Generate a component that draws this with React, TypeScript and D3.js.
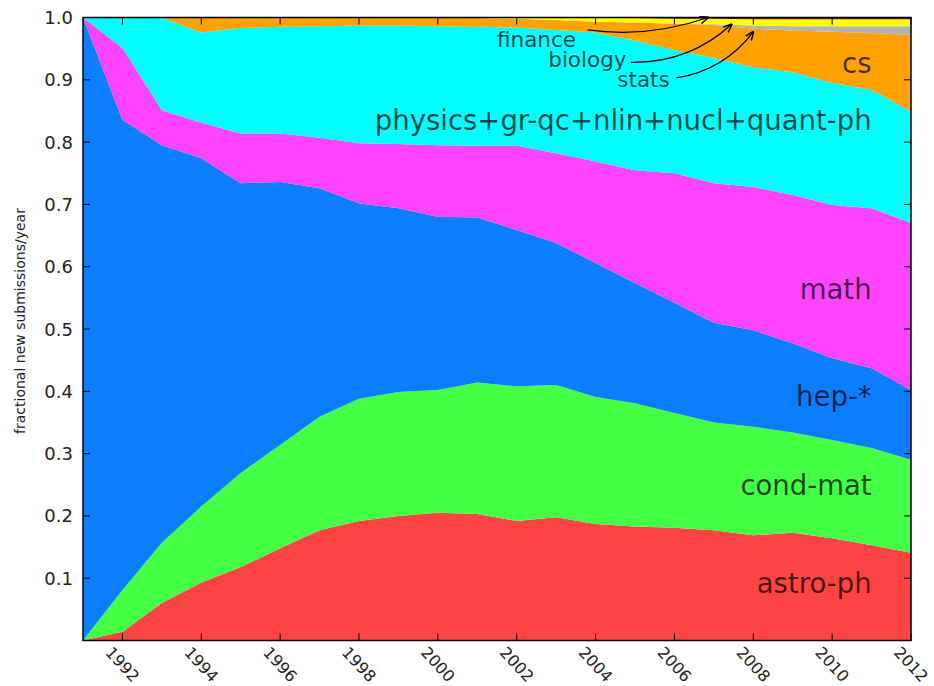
import React from "react";
import * as d3 from "d3";

// years on the x axis
const years = [
  1991, 1992, 1993, 1994, 1995, 1996, 1997, 1998, 1999, 2000, 2001,
  2002, 2003, 2004, 2005, 2006, 2007, 2008, 2009, 2010, 2011, 2012,
];

// fraction of new submissions per year, one array per archive (bottom to top)
const astroPh = [
  0, 0.014, 0.06, 0.093, 0.118, 0.148, 0.177, 0.192, 0.2, 0.205, 0.203,
  0.192, 0.198, 0.187, 0.183, 0.181, 0.177, 0.169, 0.173, 0.164, 0.153, 0.141,
];
const condMat = [
  0, 0.067, 0.097, 0.122, 0.151, 0.166, 0.182, 0.196, 0.199, 0.197, 0.211,
  0.216, 0.212, 0.204, 0.198, 0.184, 0.173, 0.174, 0.161, 0.158, 0.156, 0.149,
];
const hep = [
  1.0, 0.755, 0.638, 0.559, 0.465, 0.422, 0.367, 0.314, 0.295, 0.278, 0.265,
  0.251, 0.228, 0.215, 0.193, 0.177, 0.16, 0.155, 0.143, 0.131, 0.128, 0.112,
];
const math = [
  0, 0.115, 0.056, 0.057, 0.08, 0.078, 0.081, 0.096, 0.103, 0.115, 0.115,
  0.135, 0.144, 0.163, 0.181, 0.208, 0.224, 0.23, 0.238, 0.246, 0.257, 0.268,
];
const physics = [
  0, 0.049, 0.149, 0.145, 0.169, 0.171, 0.179, 0.189, 0.19, 0.191, 0.191,
  0.19, 0.198, 0.207, 0.208, 0.198, 0.201, 0.192, 0.197, 0.196, 0.19, 0.179,
];
const cs = [
  0, 0, 0, 0.024, 0.017, 0.015, 0.014, 0.013, 0.013, 0.014, 0.014,
  0.014, 0.016, 0.017, 0.029, 0.042, 0.053, 0.062, 0.067, 0.082, 0.091, 0.123,
];
const stats = [
  0, 0, 0, 0, 0, 0, 0, 0, 0, 0, 0,
  0, 0, 0, 0, 0, 0.001, 0.005, 0.007, 0.009, 0.011, 0.014,
];
const biology = [
  0, 0, 0, 0, 0, 0, 0, 0, 0, 0, 0.001,
  0.002, 0.004, 0.006, 0.007, 0.008, 0.009, 0.01, 0.011, 0.011, 0.011, 0.011,
];
const finance = [
  0, 0, 0, 0, 0, 0, 0, 0, 0, 0, 0,
  0, 0, 0.001, 0.001, 0.002, 0.002, 0.003, 0.003, 0.003, 0.003, 0.003,
];

const yTicks = [0.1, 0.2, 0.3, 0.4, 0.5, 0.6, 0.7, 0.8, 0.9, 1.0];
const xTicks = [1992, 1994, 1996, 1998, 2000, 2002, 2004, 2006, 2008, 2010, 2012];

const series = [
  { key: "astro-ph", values: astroPh },
  { key: "cond-mat", values: condMat },
  { key: "hep-*", values: hep },
  { key: "math", values: math },
  { key: "physics", values: physics },
  { key: "cs", values: cs },
  { key: "stats", values: stats },
  { key: "biology", values: biology },
  { key: "finance", values: finance },
];

const colors: Record<string, string> = {
  "astro-ph": "#ff4444",
  "cond-mat": "#44ff44",
  "hep-*": "#0a7eff",
  math: "#ff44ff",
  physics: "#00ffff",
  cs: "#ffa200",
  stats: "#b4b4b4",
  biology: "#ffff00",
  finance: "#7a1010",
};

// labels placed inside the areas (year, value of the baseline)
const areaLabels = [
  { text: "cs", year: 2011, value: 0.911 },
  { text: "physics+gr-qc+nlin+nucl+quant-ph", year: 2011, value: 0.819 },
  { text: "math", year: 2011, value: 0.548 },
  { text: "hep-*", year: 2011, value: 0.377 },
  { text: "cond-mat", year: 2011, value: 0.234 },
  { text: "astro-ph", year: 2011, value: 0.077 },
];

// annotations for the thin layers at the top
const annotations = [
  { text: "finance", tx: 2001.5, ty: 0.953, from: [2003.8, 0.98], to: [2006.85, 1.0], rad: 0.12 },
  { text: "biology", tx: 2002.8, ty: 0.921, from: [2004.9, 0.928], to: [2007.45, 0.989], rad: 0.2 },
  { text: "stats", tx: 2004.55, ty: 0.889, from: [2006.05, 0.903], to: [2008.0, 0.977], rad: 0.2 },
];

const W = 934;
const H = 686;
const margin = { top: 17.5, right: 23, bottom: 45.5, left: 83 };
const font = "DejaVu Sans, sans-serif";

export default function App() {
  const x = d3
    .scaleLinear()
    .domain([1991, 2012])
    .range([margin.left, W - margin.right]);
  const y = d3
    .scaleLinear()
    .domain([0, 1])
    .range([H - margin.bottom, margin.top]);

  const rows = years.map((yr, i) => {
    const row: Record<string, number> = { year: yr };
    series.forEach((s) => (row[s.key] = s.values[i]));
    return row;
  });
  const stacked = d3.stack<any>().keys(series.map((s) => s.key))(rows);

  const area = d3
    .area<any>()
    .x((d) => x(d.data.year))
    .y0((d) => y(d[0]))
    .y1((d) => y(d[1]));

  const x0 = x.range()[0];
  const x1 = x.range()[1];
  const yb = y.range()[0];
  const yt = y.range()[1];
  const tickLen = 7;

  // curved arrow, like matplotlib arc3 with rad
  const arc = (a: number[], b: number[], rad: number) => {
    const ax = x(a[0]), ay = y(a[1]), bx = x(b[0]), by = y(b[1]);
    const mx = (ax + bx) / 2, my = (ay + by) / 2;
    const dx = bx - ax, dy = by - ay;
    const cx = mx - rad * dy;
    const cy = my + rad * dx;
    return `M${ax},${ay} Q${cx},${cy} ${bx},${by}`;
  };

  return (
    <svg
      width={W}
      height={H}
      style={{ position: "absolute", left: 0, top: 0, background: "#fff" }}
      fontFamily={font}
    >
      <defs>
        <clipPath id="plot">
          <rect x={x0} y={yt} width={x1 - x0} height={yb - yt} />
        </clipPath>
        <marker
          id="head"
          viewBox="0 0 10 10"
          refX="9"
          refY="5"
          markerWidth="9"
          markerHeight="9"
          markerUnits="userSpaceOnUse"
          orient="auto"
        >
          <path d="M0,1 L10,5 L0,9" fill="none" stroke="#000" strokeWidth={1.6} />
        </marker>
      </defs>

      <g clipPath="url(#plot)">
        {stacked.map((layer) => (
          <path key={layer.key} d={area(layer) || ""} fill={colors[layer.key]} />
        ))}
      </g>

      {/* labels inside areas */}
      {areaLabels.map((l) => (
        <text
          key={l.text}
          x={x(l.year)}
          y={y(l.value)}
          textAnchor="end"
          fontSize={27.5}
          fill="#000"
          fillOpacity={0.72}
        >
          {l.text}
        </text>
      ))}

      {/* annotations */}
      {annotations.map((a) => (
        <g key={a.text}>
          <text
            x={x(a.tx)}
            y={y(a.ty)}
            fontSize={21.5}
            fill="#000"
            fillOpacity={0.72}
          >
            {a.text}
          </text>
          <path
            d={arc(a.from, a.to, a.rad)}
            fill="none"
            stroke="#000"
            strokeWidth={1.3}
            markerEnd="url(#head)"
          />
        </g>
      ))}

      {/* frame */}
      <rect
        x={x0}
        y={yt}
        width={x1 - x0}
        height={yb - yt}
        fill="none"
        stroke="#000"
        strokeWidth={1.5}
      />

      {/* y ticks (inward, both sides) */}
      {yTicks.map((t) => (
        <g key={"y" + t}>
          <line x1={x0} x2={x0 + tickLen} y1={y(t)} y2={y(t)} stroke="#000" />
          <line x1={x1} x2={x1 - tickLen} y1={y(t)} y2={y(t)} stroke="#000" />
          <text
            x={x0 - 10}
            y={y(t)}
            textAnchor="end"
            dominantBaseline="central"
            fontSize={18}
            fill="#222"
          >
            {t.toFixed(1)}
          </text>
        </g>
      ))}

      {/* x ticks (inward, top and bottom) */}
      {xTicks.map((t) => (
        <g key={"x" + t}>
          <line x1={x(t)} x2={x(t)} y1={yb} y2={yb - tickLen} stroke="#000" />
          <line x1={x(t)} x2={x(t)} y1={yt} y2={yt + tickLen} stroke="#000" />
          <text
            transform={`translate(${x(t)},${yb + 24}) rotate(47)`}
            textAnchor="middle"
            dominantBaseline="central"
            fontSize={16}
            fill="#222"
          >
            {t}
          </text>
        </g>
      ))}

      <text
        transform={`translate(20,${(yt + yb) / 2 - 8}) rotate(-90)`}
        textAnchor="middle"
        dominantBaseline="central"
        fontSize={14}
        fill="#222"
      >
        fractional new submissions/year
      </text>
    </svg>
  );
}
